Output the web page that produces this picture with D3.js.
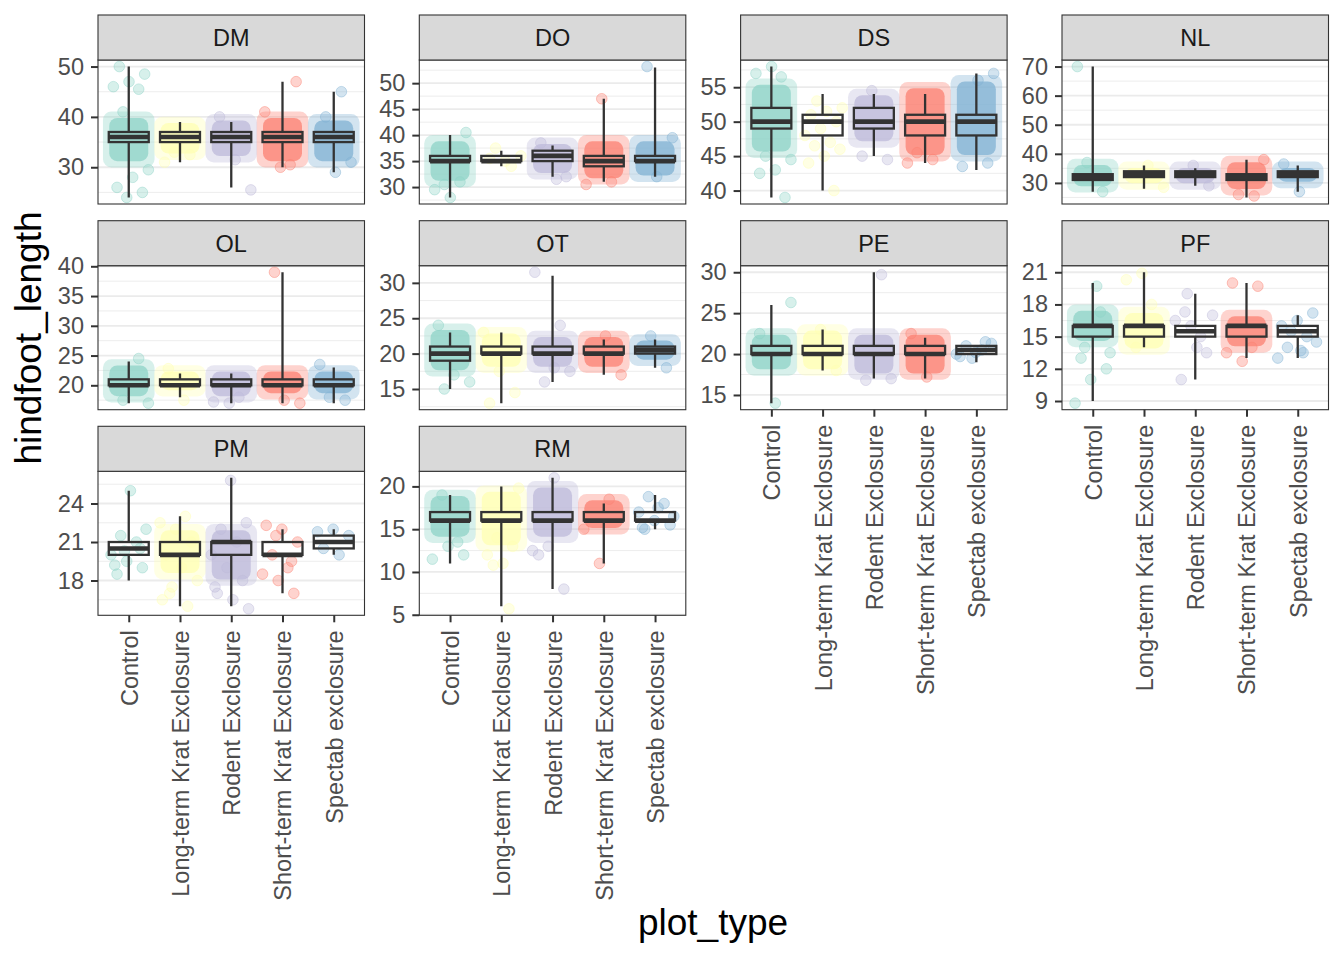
<!DOCTYPE html>
<html>
<head>
<meta charset="utf-8">
<script src="https://cdn.jsdelivr.net/npm/d3@7"></script>
<style>
  body { margin: 0; background: #fff; }
  svg { display: block; font-family: "Liberation Sans", Arial, sans-serif; }
</style>
</head>
<body>
<div class="facet-chart"></div>
<script>
const width = 1344;
const height = 960;

const species = ["DM", "DO", "DS", "NL", "OL", "OT", "PE", "PF", "PM", "RM"];
const plotTypes = [
    "Control",
    "Long-term Krat Exclosure",
    "Rodent Exclosure",
    "Short-term Krat Exclosure",
    "Spectab exclosure",
];
const typeColors = ["#8DD3C7", "#FFFFB3", "#BEBADA", "#FB8072", "#80B1D3"];

// y tick labels per species panel
const yTicks = [
    [30, 40, 50],
    [30, 35, 40, 45, 50],
    [40, 45, 50, 55],
    [30, 40, 50, 60, 70],
    [20, 25, 30, 35, 40],
    [15, 20, 25, 30],
    [15, 20, 25, 30],
    [9, 12, 15, 18, 21],
    [18, 21, 24],
    [5, 10, 15, 20],
];

// boxplot stats, one row per species, one column per plot type
const whiskerLo = [
    [24, 31, 26, 30, 29],
    [28, 34, 32, 31, 32],
    [39, 40, 45, 44, 43],
    [27, 28, 29, 25, 27],
    [17, 18, 17, 17, 17],
    [15, 13, 16, 17, 18],
    [14, 18, 17, 17, 19],
    [9, 14, 11, 13, 13],
    [18, 16, 16, 17, 20],
    [11, 6, 8, 11, 15],
];
const q1 = [
    [35, 35, 35, 35, 35],
    [35, 35, 35, 34, 35],
    [49, 48, 49, 48, 48],
    [31, 32, 32, 31, 32],
    [20, 20, 20, 20, 20],
    [19, 20, 20, 20, 20],
    [20, 20, 20, 20, 20],
    [15, 15, 15, 15, 15],
    [20, 20, 20, 20, 20.5],
    [16, 16, 16, 16, 16],
];
const medians = [
    [36, 36, 36, 36, 36],
    [35, 35, 36, 35, 35],
    [50, 50, 50, 50, 50],
    [32, 33, 33, 32, 33],
    [20, 20, 20, 20, 20],
    [20, 20, 20, 20, 20.5],
    [20, 20, 20, 20, 20.5],
    [16, 16, 15.5, 16, 15.5],
    [20.5, 20, 21, 20, 21],
    [16, 16, 16, 16, 16],
];
const q3 = [
    [37, 37, 37, 37, 37],
    [36, 36, 37, 36, 36],
    [52, 51, 52, 51, 51],
    [33, 34, 34, 33, 34],
    [21, 21, 21, 21, 21],
    [21, 21, 21, 21, 21],
    [21, 21, 21, 21, 21],
    [16, 16, 16, 16, 16],
    [21, 21, 21, 21, 21.5],
    [17, 17, 17, 17, 17],
];
const whiskerHi = [
    [50, 39, 39, 47, 45],
    [40, 37, 38, 47, 53],
    [58, 54, 54, 54, 57],
    [70, 36, 35, 38, 36],
    [24, 22, 22, 39, 23],
    [23, 23, 31, 22, 22],
    [26, 23, 30, 22, 21],
    [20, 21, 19, 20, 17],
    [25, 23, 26, 22, 22],
    [19, 20, 21, 18, 19],
];

// range where the jittered points pile up into a solid cloud (null = sparse)
const cloudLo = [
    [31, 32.5, 32, 31, 31],
    [31, null, 32.5, 31.5, 32],
    [45.5, null, 47, 45, 45],
    [28.5, 29.5, 29.5, 27.5, 30],
    [18, 19, 18, 18.5, 18.5],
    [17.5, 18, 18, 18, 19],
    [18, 18, 17.5, 17.5, null],
    [14.5, 13.8, null, 14, null],
    [null, 18.5, 18, null, null],
    [14, 13, 14, 15, null],
];
const cloudHi = [
    [40, 39, 39.5, 40, 39.5],
    [39, null, 38.5, 39, 39],
    [55.5, null, 54, 55, 56],
    [36.5, 35.5, 35.5, 37.5, 35.5],
    [23.5, 22.5, 22.5, 22.5, 22.5],
    [23.5, 23, 22.5, 22.5, 22],
    [22.5, 23, 22.5, 22.5, null],
    [17.5, 17.3, null, 17, null],
    [null, 22, 22, null, null],
    [19, 19.5, 20, 18.5, null],
];

// individually visible points outside / around the clouds
const ptsDM = [
    [50, 48.5, 47, 46, 45.5, 41, 29.5, 28, 26, 25, 24],
    [31, 32.5, 33],
    [25.5, 31.5, 40],
    [47, 30, 41, 30.5],
    [45, 40, 31, 29],
];
const ptsDO = [
    [40.5, 28, 29.5, 31, 30.5],
    [34, 37.5, 36, 35, 35.5],
    [31.5, 38.5, 32],
    [47, 30.5, 31],
    [53.2, 39.5, 32],
];
const ptsDS = [
    [58, 57, 56.5, 45, 44.5, 43, 42.5, 39],
    [53, 52, 51.5, 51, 50, 49, 48, 47, 46.5, 46, 45, 44, 40],
    [45, 44.5, 54.5],
    [44, 44.5, 45.5],
    [57, 56, 43.5, 44],
];
const ptsNL = [
    [70, 27, 37],
    [28.5, 36],
    [29, 36],
    [25.5, 26, 38],
    [27, 36.5],
];
const ptsOL = [
    [24.5, 17.5, 17],
    [17.5, 22.8],
    [17, 17.2, 18],
    [39, 17, 17.5],
    [23.5, 17.5, 18],
];
const ptsOT = [
    [15, 16, 17, 24],
    [13, 14.5, 17.5, 23],
    [31.5, 24, 16, 17.5, 18],
    [17, 22.5],
    [18, 22.5],
];
const ptsPE = [
    [26.3, 14, 22.5],
    [18, 23],
    [29.7, 16.8, 17],
    [17.2, 22.5],
    [19.5, 20, 20.5, 21, 21.3, 20.2, 19.7, 21.5],
];
const ptsPF = [
    [19.7, 13, 12, 11, 8.8, 17.3, 14, 13.5],
    [20.9, 20.3, 18, 14],
    [19, 17, 14, 11, 13.5, 16, 16.5, 15, 17.3],
    [20, 19.7, 12.7, 13.5, 14],
    [13, 13.5, 14, 17.2, 16.5, 16, 15, 15.5, 14.5, 13.7],
];
const ptsPM = [
    [18.5, 19, 19.5, 20, 21, 21.5, 22, 25, 19.2, 20.5, 20.3],
    [16.5, 16, 17.5, 18, 19, 20, 21, 22, 22.5, 23, 17],
    [15.8, 16.5, 17, 18, 19, 20, 21, 22, 22.5, 25.8, 17.5],
    [17, 18, 18.5, 19, 20, 21, 22, 22.3, 19.5, 21.5],
    [20, 20.5, 21.5, 22, 21.8],
];
const ptsRM = [
    [12, 13, 11.5, 13.5, 19],
    [5.7, 10.8, 19.8, 11, 12, 13, 14],
    [21, 12, 8, 13, 12.5],
    [11, 15, 18.5],
    [15, 15.5, 16, 17, 18, 18.8, 16.5, 17.5, 15.2],
];
const loosePoints = [ptsDM, ptsDO, ptsDS, ptsNL, ptsOL, ptsOT, ptsPE, ptsPF, ptsPM, ptsRM];

// layout
const panelW = 266.5;
const panelH = 144;
const stripH = 45;
const colX = [98, 419.3, 740.6, 1062];
const rowTop = [15, 220.7, 426.3];
const pointR = 5.3;
const textSize = 23.5;

const svg = d3
    .select(".facet-chart")
    .append("svg")
    .attr("width", width)
    .attr("height", height);

const x = d3.scalePoint().domain(plotTypes).range([0, panelW]).padding(0.6);
const step = x.step();
const boxW = 0.78 * step;

// cheap deterministic spread for jittered x positions
const jitter = (i) => (((i * 0.61803398875 + 0.27) % 1) - 0.5) * 0.8 * step;

species.forEach((sp, s) => {
    const col = s % 4;
    const row = Math.floor(s / 4);
    const px = colX[col];
    const py = rowTop[row] + stripH;

    const allVals = [].concat(
        whiskerLo[s],
        whiskerHi[s],
        ...loosePoints[s],
        cloudLo[s].filter((v) => v != null),
        cloudHi[s].filter((v) => v != null)
    );
    const [lo, hi] = d3.extent(allVals);
    const pad = (hi - lo) * 0.05;
    const y = d3.scaleLinear().domain([lo - pad, hi + pad]).range([panelH, 0]);

    const g = svg.append("g").attr("transform", `translate(${px},${py})`);

    // strip
    const strip = svg
        .append("g")
        .attr("transform", `translate(${px},${rowTop[row]})`);
    strip
        .append("rect")
        .attr("width", panelW)
        .attr("height", stripH)
        .attr("fill", "#D9D9D9")
        .attr("stroke", "#333333")
        .attr("stroke-width", 1.1);
    strip
        .append("text")
        .text(sp)
        .attr("x", panelW / 2)
        .attr("y", stripH / 2)
        .attr("dy", "0.36em")
        .attr("text-anchor", "middle")
        .attr("fill", "#1A1A1A")
        .attr("font-size", textSize);

    g.append("rect")
        .attr("width", panelW)
        .attr("height", panelH)
        .attr("fill", "white");

    const clipId = "clip-" + sp;
    g.append("clipPath")
        .attr("id", clipId)
        .append("rect")
        .attr("width", panelW)
        .attr("height", panelH);

    const inner = g.append("g").attr("clip-path", `url(#${clipId})`);

    // minor grid between (and just outside) the major ticks
    const ticks = yTicks[s];
    const half = (ticks[1] - ticks[0]) / 2;
    const minor = [ticks[0] - half].concat(ticks.map((t) => t + half));
    inner
        .selectAll(".minor")
        .data(minor)
        .enter()
        .append("line")
        .attr("x1", 0)
        .attr("x2", panelW)
        .attr("y1", (d) => y(d))
        .attr("y2", (d) => y(d))
        .attr("stroke", "#EBEBEB")
        .attr("stroke-width", 0.9);
    inner
        .selectAll(".major")
        .data(ticks)
        .enter()
        .append("line")
        .attr("x1", 0)
        .attr("x2", panelW)
        .attr("y1", (d) => y(d))
        .attr("y2", (d) => y(d))
        .attr("stroke", "#EBEBEB")
        .attr("stroke-width", 1.8);

    plotTypes.forEach((pt, t) => {
        const cx = x(pt);
        const color = typeColors[t];

        // dense cloud of jittered points: soft halo then a solid core
        if (cloudLo[s][t] != null) {
            const top = y(cloudHi[s][t]) - pointR;
            const bot = y(cloudLo[s][t]) + pointR;
            inner
                .append("rect")
                .attr("x", cx - 0.4 * step - pointR)
                .attr("y", top)
                .attr("width", 0.8 * step + 2 * pointR)
                .attr("height", bot - top)
                .attr("rx", pointR * 1.6)
                .attr("fill", color)
                .attr("fill-opacity", 0.35);
            inner
                .append("rect")
                .attr("x", cx - 0.4 * step + 1)
                .attr("y", top + pointR * 1.2)
                .attr("width", 0.8 * step - 2)
                .attr("height", Math.max(0, bot - top - pointR * 2.4))
                .attr("rx", pointR * 1.5)
                .attr("fill", color)
                .attr("fill-opacity", 0.75);
        }

        inner
            .selectAll(null)
            .data(loosePoints[s][t])
            .enter()
            .append("circle")
            .attr("cx", (d, i) => cx + jitter(i + t * 3 + s))
            .attr("cy", (d) => y(d))
            .attr("r", pointR)
            .attr("fill", color)
            .attr("fill-opacity", 0.35)
            .attr("stroke", color)
            .attr("stroke-opacity", 0.45)
            .attr("stroke-width", 1);
    });

    // boxplots on top, no fill
    plotTypes.forEach((pt, t) => {
        const cx = x(pt);
        const bg = inner.append("g").attr("stroke", "#333333").attr("fill", "none");
        bg.append("line")
            .attr("x1", cx)
            .attr("x2", cx)
            .attr("y1", y(whiskerHi[s][t]))
            .attr("y2", y(q3[s][t]))
            .attr("stroke-width", 2.3);
        bg.append("line")
            .attr("x1", cx)
            .attr("x2", cx)
            .attr("y1", y(q1[s][t]))
            .attr("y2", y(whiskerLo[s][t]))
            .attr("stroke-width", 2.3);
        bg.append("rect")
            .attr("x", cx - boxW / 2)
            .attr("y", y(q3[s][t]))
            .attr("width", boxW)
            .attr("height", y(q1[s][t]) - y(q3[s][t]))
            .attr("stroke-width", 2.3);
        bg.append("line")
            .attr("x1", cx - boxW / 2)
            .attr("x2", cx + boxW / 2)
            .attr("y1", y(medians[s][t]))
            .attr("y2", y(medians[s][t]))
            .attr("stroke-width", 4.6);
    });

    g.append("rect")
        .attr("width", panelW)
        .attr("height", panelH)
        .attr("fill", "none")
        .attr("stroke", "#333333")
        .attr("stroke-width", 1.1);

    // y axis
    const yAxis = g
        .append("g")
        .call(d3.axisLeft(y).tickValues(ticks).tickSize(7).tickPadding(7));
    yAxis.select(".domain").remove();
    yAxis.selectAll(".tick line").attr("stroke", "#333333").attr("stroke-width", 2);
    yAxis
        .selectAll(".tick text")
        .attr("fill", "#4D4D4D")
        .attr("font-size", textSize)
        .attr("font-family", null);

    // x axis only where no panel sits below
    const hasBelow = s + 4 < species.length;
    if (!hasBelow) {
        const xAxis = g
            .append("g")
            .attr("transform", `translate(0,${panelH})`)
            .call(d3.axisBottom(x).tickSize(7).tickPadding(8));
        xAxis.select(".domain").remove();
        xAxis.selectAll(".tick line").attr("stroke", "#333333").attr("stroke-width", 2);
        xAxis
            .selectAll(".tick text")
            .attr("fill", "#4D4D4D")
            .attr("font-size", textSize)
            .attr("font-family", null)
            .attr("transform", "rotate(-90)")
            .attr("text-anchor", "end")
            .attr("x", -15)
            .attr("y", 0)
            .attr("dy", "0.36em");
    }
});

// axis titles
svg.append("text")
    .text("hindfoot_length")
    .attr("transform", "translate(41,338) rotate(-90)")
    .attr("text-anchor", "middle")
    .attr("fill", "black")
    .attr("font-size", 37);

svg.append("text")
    .text("plot_type")
    .attr("x", 713)
    .attr("y", 935)
    .attr("text-anchor", "middle")
    .attr("fill", "black")
    .attr("font-size", 37);
</script>
</body>
</html>
